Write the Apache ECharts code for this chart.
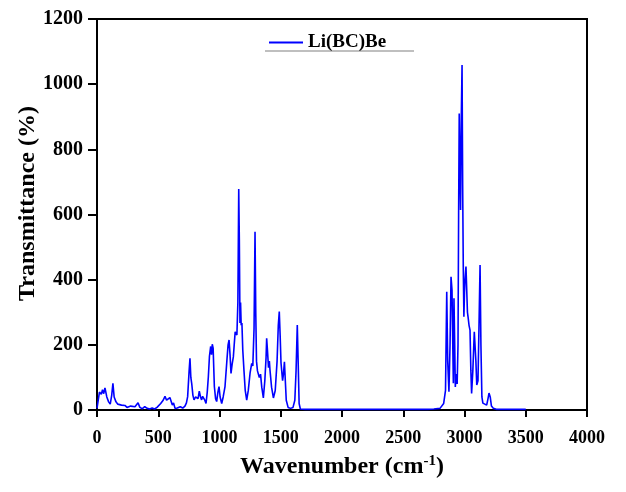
<!DOCTYPE html>
<html>
<head>
<meta charset="utf-8">
<script src="https://cdn.jsdelivr.net/npm/echarts@6/dist/echarts.min.js"></script>
<style>
  html, body { margin: 0; padding: 0; background: #fff; }
  #chart { width: 626px; height: 492px; }
</style>
</head>
<body>
<div id="chart"></div>
<script>
// wavenumber (cm-1) and transmittance (%)
const wavenumber = [
  0, 10, 20, 35, 45, 55, 65, 80, 95, 108, 120, 130, 140, 155, 170, 185, 200, 215, 228, 245,
  260, 275, 290, 310, 335, 350, 370, 390, 410, 430, 450, 470, 490, 505, 520, 540, 555, 568, 582, 595,
  604, 615, 625, 637, 655, 680, 700, 718, 730, 740, 752, 759, 766, 773, 783, 792, 805, 814, 825, 835,
  845, 854, 862, 868, 880, 890, 900, 909, 918, 928, 935, 941, 948, 958, 968, 977, 987, 996, 1005, 1018,
  1030, 1045, 1060, 1070, 1078, 1086, 1094, 1103, 1113, 1120, 1128, 1135, 1142, 1150, 1157, 1162, 1167, 1172, 1177, 1183,
  1190, 1200, 1210, 1222, 1235, 1250, 1263, 1272, 1282, 1290, 1296, 1302, 1310, 1317, 1325, 1335, 1345, 1358, 1370, 1380,
  1385, 1392, 1400, 1407, 1412, 1425, 1440, 1455, 1470, 1480, 1488, 1495, 1502, 1508, 1515, 1522, 1530, 1536, 1545, 1560,
  1580, 1600, 1615, 1625, 1635, 1642, 1650, 1660, 1700, 2000, 2400, 2700, 2750, 2800, 2830, 2845, 2855, 2863, 2873, 2882,
  2890, 2898, 2905, 2909, 2914, 2920, 2925, 2932, 2940, 2947, 2952, 2957, 2962, 2968, 2974, 2980, 2985, 2990, 2995, 3000,
  3004, 3012, 3018, 3024, 3030, 3037, 3045, 3052, 3058, 3068, 3080, 3086, 3093, 3100, 3110, 3118, 3127, 3134, 3142, 3150,
  3165, 3181, 3192, 3200, 3210, 3220, 3235, 3260, 3500
];
const transmittance = [
  5, 30, 55, 48, 62, 50, 68, 40, 25, 18, 45, 82, 40, 25, 18, 22, 15, 20, 14, 8,
  5, 12, 6, 10, 22, 8, 4, 10, 5, 3, 6, 3, 8, 12, 20, 30, 42, 30, 26, 38,
  34, 15, 22, 5, 6, 10, 6, 12, 22, 41, 120, 159, 100, 82, 45, 31, 40, 46, 35, 58,
  40, 31, 42, 46, 30, 20, 55, 102, 165, 195, 170, 202, 190, 72, 35, 26, 55, 72, 40, 20,
  40, 72, 150, 200, 215, 170, 112, 140, 163, 200, 240, 245, 230, 330, 678, 520, 267, 330, 260, 267,
  184, 120, 60, 30, 60, 115, 143, 135, 250, 547, 300, 150, 120, 123, 100, 110, 70, 37, 90, 160,
  220, 180, 130, 150, 123, 70, 37, 60, 150, 260, 302, 230, 145, 143, 90, 110, 148, 100, 30, 8,
  5, 8, 30, 120, 261, 150, 20, 3, 2, 2, 2, 2, 3, 5, 20, 60, 363, 150, 56, 200,
  409, 368, 180, 82, 343, 200, 71, 110, 80, 200, 600, 910, 915, 614, 900, 1059, 690, 440, 286, 360,
  399, 440, 435, 300, 283, 260, 245, 120, 51, 120, 240, 245, 150, 77, 90, 250, 445, 200, 40, 21,
  18, 15, 35, 52, 40, 12, 5, 2, 2
];
const xTicks = [0, 500, 1000, 1500, 2000, 2500, 3000, 3500, 4000];
const yTicks = [0, 200, 400, 600, 800, 1000, 1200];

const serif = '"Times New Roman", "Liberation Serif", serif';
const points = wavenumber.map((w, i) => [w, transmittance[i]]);

const chart = echarts.init(document.getElementById('chart'), null, { renderer: 'canvas' });

const option = {
  backgroundColor: '#fff',
  animation: false,
  grid: {
    left: 97, right: 39, top: 19, bottom: 82,
    containLabel: false, outerBoundsMode: 'none',
    show: true, borderColor: '#000', borderWidth: 2
  },
  legend: {
    data: ['Li(BC)Be'],
    left: 264, top: 28,
    icon: 'rect',
    itemWidth: 34, itemHeight: 2, itemGap: 5,
    textStyle: { fontFamily: serif, fontWeight: 'bold', fontSize: 19, color: '#000' }
  },
  graphic: [{
    type: 'line',
    shape: { x1: 265, y1: 51, x2: 414, y2: 51 },
    style: { stroke: '#aaa', lineWidth: 1.5 }
  }],
  xAxis: {
    type: 'value',
    min: xTicks[0], max: xTicks[xTicks.length - 1], interval: 500,
    name: '{t|Wavenumber (cm}{s|-1}{t|)}',
    nameLocation: 'middle', nameGap: 44, nameMoveOverlap: false,
    nameTextStyle: {
      rich: {
        t: { fontFamily: serif, fontWeight: 'bold', fontSize: 24, color: '#000', verticalAlign: 'bottom' },
        s: { fontFamily: serif, fontWeight: 'bold', fontSize: 15, color: '#000', verticalAlign: 'top', padding: [0, 0, 10, 0] }
      }
    },
    axisLine: { lineStyle: { color: '#000', width: 2 } },
    axisTick: { length: 7, lineStyle: { width: 2, color: '#000' } },
    axisLabel: { margin: 19, fontFamily: serif, fontWeight: 'bold', fontSize: 18, color: '#000', formatter: v => String(v) },
    splitLine: { show: false }
  },
  yAxis: {
    type: 'value',
    min: yTicks[0], max: yTicks[yTicks.length - 1], interval: 200,
    name: 'Transmittance (%)',
    nameLocation: 'middle', nameGap: 57, nameMoveOverlap: false,
    nameTextStyle: { fontFamily: serif, fontWeight: 'bold', fontSize: 24, color: '#000', padding: [0, 0, 0, 22] },
    axisLine: { show: true, lineStyle: { color: '#000', width: 2 } },
    axisTick: { show: true, length: 9, lineStyle: { width: 2, color: '#000' } },
    axisLabel: { margin: 14, fontFamily: serif, fontWeight: 'bold', fontSize: 20, color: '#000', formatter: v => String(v) },
    splitLine: { show: false }
  },
  series: [{
    name: 'Li(BC)Be',
    type: 'line',
    data: points,
    symbol: 'none',
    lineStyle: { color: '#0000ff', width: 1.6 },
    itemStyle: { color: '#0000ff' }
  }]
};

chart.setOption(option);
</script>
</body>
</html>
